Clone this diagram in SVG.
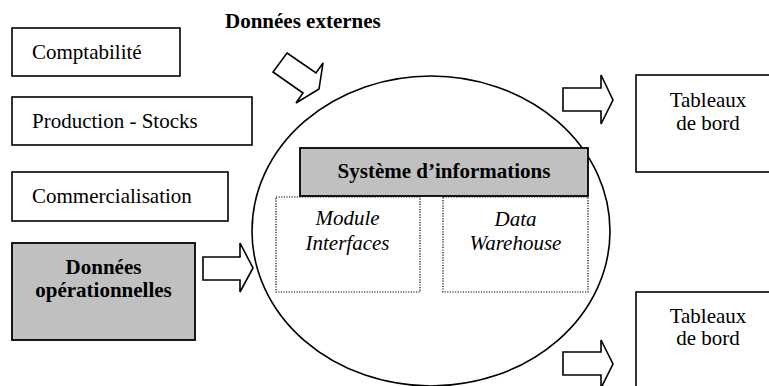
<svg xmlns="http://www.w3.org/2000/svg" width="769" height="386" viewBox="0 0 769 386">
<style>
.box{fill:#fff;stroke:#000;stroke-width:1.6}
.grey{fill:#c0c0c0;stroke:#000;stroke-width:1.8}
.dot{fill:none;stroke:#000;stroke-width:1.2;stroke-dasharray:1.2 1.4}
.arrow{fill:#fff;stroke:#000;stroke-width:1.6;stroke-linejoin:miter}
text{font-family:"Liberation Serif","Times New Roman",serif;font-size:21px;fill:#000}
.b{font-weight:bold}
.i{font-style:italic}
.c{text-anchor:middle}
</style>
<rect width="769" height="386" fill="#fff"/>
<g id="si-ellipse">
<ellipse cx="431" cy="231" rx="179" ry="155" fill="#fff" stroke="#000" stroke-width="1.6"/>
</g>
<g id="comptabilite"><rect class="box" x="12" y="28" width="168" height="48"/><text x="32" y="59">Comptabilité</text></g>
<g id="production"><rect class="box" x="12" y="97" width="240" height="48"/><text x="32" y="128">Production - Stocks</text></g>
<g id="commercialisation"><rect class="box" x="12" y="172" width="216" height="49"/><text x="32" y="203">Commercialisation</text></g>
<g id="donnees-operationnelles"><rect class="grey" x="12" y="243" width="183" height="97"/><text class="b c" x="103.5" y="274">Données</text><text class="b c" x="103.5" y="297">opérationnelles</text></g>
<g id="donnees-externes"><text class="b" x="225" y="28">Données externes</text></g>
<g id="module-interfaces"><rect class="dot" x="276" y="197" width="144" height="95"/><text class="i c" x="347.5" y="225">Module</text><text class="i c" x="347.5" y="250">Interfaces</text></g>
<g id="data-warehouse"><rect class="dot" x="443" y="197" width="145" height="95"/><text class="i c" x="515.5" y="226">Data</text><text class="i c" x="515.5" y="250">Warehouse</text></g>
<g id="systeme-informations"><rect class="grey" x="300" y="148" width="288" height="48"/><text class="b c" x="444" y="178">Système d’informations</text></g>
<g id="tableaux-1"><rect class="box" x="636" y="75" width="144" height="97"/><text class="c" x="708" y="107">Tableaux</text><text class="c" x="708" y="130">de bord</text></g>
<g id="tableaux-2"><rect class="box" x="636" y="292" width="144" height="110"/><text class="c" x="708" y="323">Tableaux</text><text class="c" x="708" y="345">de bord</text></g>
<g id="connectors">
<polygon class="arrow" points="287,53 316,73 323,63 319,89 296,103 303,93 273,72"/>
<polygon class="arrow" points="203,257 240,257 240,243 253,268 240,292 240,280 203,280"/>
<polygon class="arrow" points="563,88 601,88 601,75 613,100 601,124 601,111 563,111"/>
<polygon class="arrow" points="563,352 601,352 601,340 613,364 601,388 601,375 563,375"/>
</g>
</svg>
